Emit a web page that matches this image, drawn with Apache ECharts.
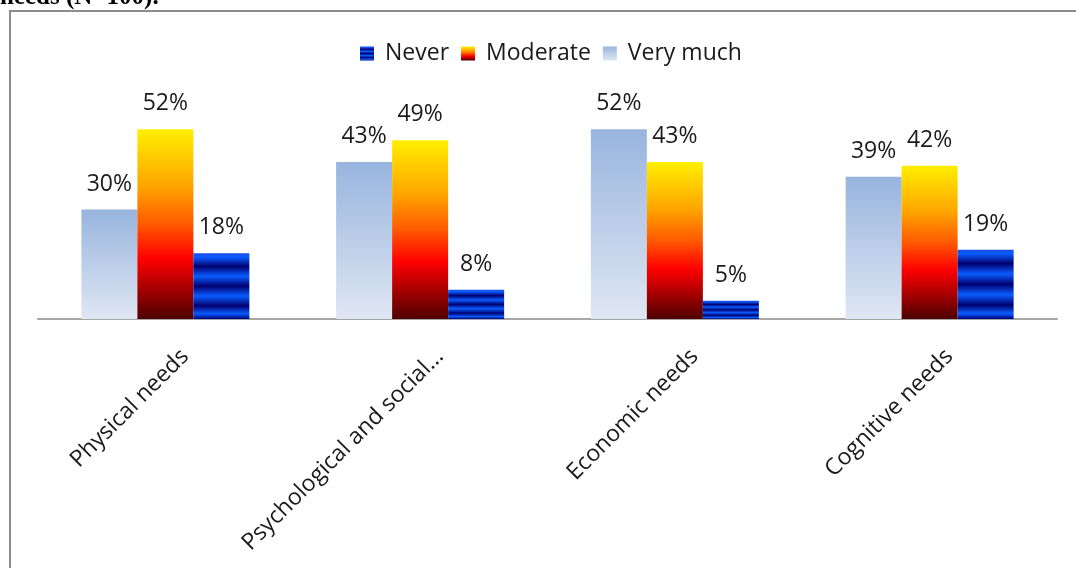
<!DOCTYPE html>
<html>
<head>
<meta charset="utf-8">
<script src="https://cdn.jsdelivr.net/npm/echarts@6/dist/echarts.min.js"></script>
<style>
  html, body { margin: 0; padding: 0; background: #fff; }
  #chart { width: 1076px; height: 568px; }
</style>
</head>
<body>
<div id="chart"></div>
<script>
// Needs categories and the share of respondents per answer level (%)
const categories = ['Physical needs', 'Psychological and social...', 'Economic needs', 'Cognitive needs'];
const veryMuch = [30, 43, 52, 39];
const moderate = [52, 49, 43, 42];
const never = [18, 8, 5, 19];
const legendOrder = ['Never', 'Moderate', 'Very much'];

const FONT = '"Open Sans", Lato, sans-serif';

// Fills
const veryMuchFill = new echarts.graphic.LinearGradient(0, 0, 0, 1, [
  { offset: 0, color: '#98b4de' },
  { offset: 1, color: '#dfe7f3' }
]);
const moderateFill = new echarts.graphic.LinearGradient(0, 0, 0, 1, [
  { offset: 0, color: '#ffef00' },
  { offset: 0.3, color: '#ffa500' },
  { offset: 0.5, color: '#ff5a00' },
  { offset: 0.68, color: '#ff0000' },
  { offset: 1, color: '#4e0000' }
]);
// Banded blue fill: bright and dark stripes across the bar height
const neverFill = new echarts.graphic.LinearGradient(0, 0, 0, 1, [
  { offset: 0.0, color: '#1a4ee8' },
  { offset: 0.06, color: '#0a5cff' },
  { offset: 0.2, color: '#000070' },
  { offset: 0.35, color: '#0a5cff' },
  { offset: 0.5, color: '#000070' },
  { offset: 0.65, color: '#0a5cff' },
  { offset: 0.8, color: '#000070' },
  { offset: 0.92, color: '#0a5cff' },
  { offset: 1.0, color: '#00007a' }
]);

const valueLabel = {
  show: true,
  position: 'top',
  distance: 14,
  formatter: p => p.value + '%',
  fontFamily: FONT,
  fontSize: 23,
  color: '#1a1a1a'
};

const chart = echarts.init(document.getElementById('chart'), null, { renderer: 'canvas' });
chart.setOption({
  backgroundColor: '#ffffff',
  animation: false,
  graphic: [
    {
      type: 'text',
      x: 0,
      y: 10,
      style: {
        text: 'needs (N=100).',
        font: 'bold 25px "Liberation Serif", "Times New Roman", serif',
        fill: '#000',
        verticalAlign: 'bottom'
      }
    },
    {
      type: 'rect',
      shape: { x: 10, y: 11, width: 1200, height: 700 },
      style: { fill: 'none', stroke: '#8c8c8c', lineWidth: 2 },
      silent: true
    }
  ],
  legend: {
    data: legendOrder,
    top: 37,
    left: 355,
    itemWidth: 14,
    itemHeight: 14,
    itemGap: 12,
    icon: 'rect',
    textStyle: { fontFamily: FONT, fontSize: 23, color: '#1a1a1a', padding: [0, 0, 0, 6] }
  },
  grid: { left: 38, right: 19, top: 100, bottom: 249, containLabel: false, outerBoundsMode: 'none' },
  xAxis: {
    type: 'category',
    data: categories,
    axisLine: { show: true, lineStyle: { color: '#a6a6a6', width: 2 } },
    axisTick: { show: false },
    axisLabel: {
      rotate: 45,
      interval: 0,
      margin: 14,
      verticalAlign: 'top',
      lineHeight: 56,
      fontFamily: FONT,
      fontSize: 23,
      color: '#1a1a1a'
    }
  },
  yAxis: {
    type: 'value',
    min: 0,
    max: 60,
    show: false,
    splitLine: { show: false }
  },
  series: [
    {
      name: 'Very much',
      type: 'bar',
      data: veryMuch,
      barWidth: 56,
      barGap: '0%',
      itemStyle: { color: veryMuchFill },
      label: valueLabel
    },
    {
      name: 'Moderate',
      type: 'bar',
      data: moderate,
      barWidth: 56,
      barGap: '0%',
      itemStyle: { color: moderateFill },
      label: valueLabel
    },
    {
      name: 'Never',
      type: 'bar',
      data: never,
      barWidth: 56,
      barGap: '0%',
      itemStyle: { color: neverFill },
      label: valueLabel
    }
  ]
});
</script>
</body>
</html>
